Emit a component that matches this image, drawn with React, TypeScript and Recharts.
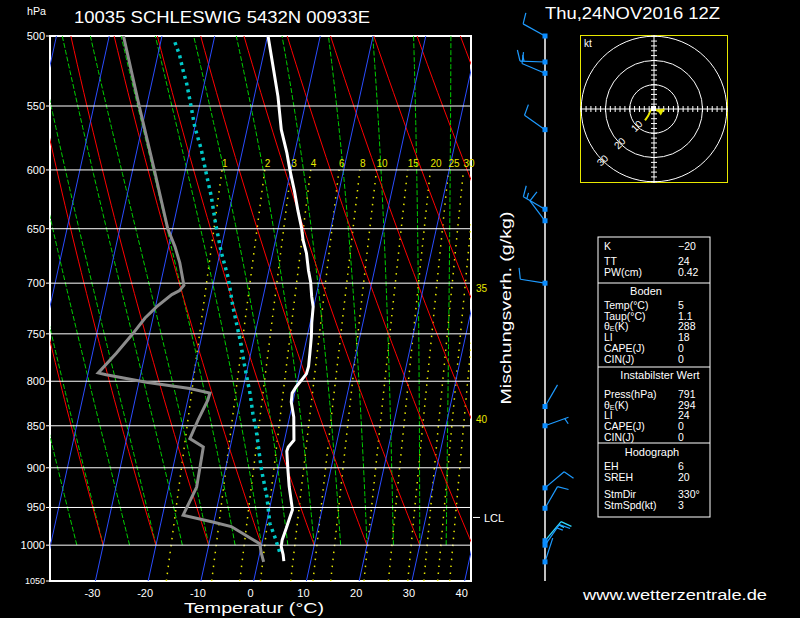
import React from 'react';
import {
  ComposedChart, Line, XAxis, YAxis, ReferenceLine, ReferenceArea, ReferenceDot, Scatter,
} from 'recharts';

// ---------- diagram geometry constants ----------
const SKEW = 30.5;          // °C of skew per ln(p) unit
const P_BOT = 1050;
const X_MIN = -38.6;
const X_MAX = 41.2;
const FONT = "'Liberation Sans', Arial, sans-serif";

// ---------- axis / reference values ----------
const pressureTicks = [500, 550, 600, 650, 700, 750, 800, 850, 900, 950, 1000, 1050];
const tempTicks = [-30, -20, -10, 0, 10, 20, 30, 40];
const isotherms = [-60, -50, -40, -30, -20, -10, 0, 10, 20, 30, 40];
const dryAdiabats = [-40, -30, -20, -10, 0, 10, 20, 30, 40, 50, 60, 70, 80]; // θ (°C) at 1000 hPa
const moistAdiabats = [-40, -35, -30, -25, -20, -15, -10, -5, 0, 5, 10, 15, 20, 25, 30, 35, 40]; // θw (°C)
const mixingRatios = [1, 2, 3, 4, 6, 8, 10, 15, 20, 25, 30, 35, 40]; // g/kg
const mixingLabels = [1, 2, 3, 4, 6, 8, 10, 15, 20, 25, 30];
const edgeMixLabels = [{ w: '35', p: 705 }, { w: '40', p: 843 }];
const lclPressure = 963;

// ---------- sounding: temperature ----------
const tempP = [1022, 1013, 1002, 993, 977, 964, 953, 923, 903, 880, 875, 867, 840, 823, 813, 806, 799, 792, 784, 770, 753, 739, 723, 713, 699, 688, 672, 660, 649, 634, 617, 600, 586, 568, 543, 521, 500];
const tempT = [4.9, 4.5, 3.8, 3.7, 4.0, 4.2, 4.4, 2.8, 1.9, 0.9, 1.0, 1.8, 0.8, -0.3, -0.5, 0.0, 0.7, 1.4, 1.5, 1.2, 0.8, 0.3, -0.1, -0.8, -1.6, -2.5, -3.6, -4.8, -5.6, -7.0, -8.5, -10.2, -11.5, -13.5, -15.5, -17.7, -19.9];

// ---------- sounding: dew point ----------
const dewP = [1023, 1011, 998, 975, 969, 960, 924, 899, 875, 865, 843, 821, 813, 808, 801, 793, 791, 770, 751, 734, 723, 711, 707, 702, 681, 666, 650, 600, 551, 500];
const dewT = [1.1, 0.3, -0.4, -6.5, -10.2, -16.1, -14.7, -14.9, -15.1, -18.0, -17.2, -16.2, -16.1, -20.1, -28.6, -36.5, -38.1, -35.5, -33.3, -31.5, -29.8, -27.4, -26.1, -25.5, -27.2, -28.8, -30.9, -35.9, -41.3, -47.3];

// ---------- parcel curve ----------
const parcelP = [1009, 989, 971, 936, 903, 853, 836, 813, 784, 756, 723, 695, 671, 645, 622, 603, 583, 566, 547, 533, 523, 513, 503];
const parcelT = [3.7, 2.2, 0.7, -1.0, -3.1, -5.9, -7.1, -8.5, -10.6, -12.6, -15.3, -17.4, -19.8, -22.1, -24.0, -25.9, -27.9, -30.0, -31.9, -33.4, -34.7, -35.9, -37.5];

// ---------- winds ----------
const windP = [500, 518, 526, 568, 633, 643, 700, 828, 850, 925, 951, 994, 1000, 1023];
const windDir = [299, 272, 293, 305, 300, 323, 279, 30, 70, 50, 30, 40, 35, 18];
const windSpd = [10, 15, 10, 10, 15, 10, 10, 3, 5, 10, 10, 15, 15, 3];

// ---------- hodograph (kt) ----------
const hodoU = [-3.7, -2.4, -1.4, 0, 2.2, 4.2];
const hodoV = [-4.7, -2.8, -0.6, 0, -1.0, -0.3];
const hodoRings = [10, 20, 30];
const hodoTickVals = [-30, -28, -26, -24, -22, -20, -18, -16, -14, -12, -10, -8, -6, -4, -2, 2, 4, 6, 8, 10, 12, 14, 16, 18, 20, 22, 24, 26, 28, 30];
const HODO_DOM = 30.5;
const HODO_SIZE = 148;

// ---------- table ----------
const tableRows = [
  { l: 'K', v: '\u221220', y: 246 },
  { l: 'TT', v: '24', y: 261 },
  { l: 'PW(cm)', v: '0.42', y: 272 },
  { l: 'Temp(\u00b0C)', v: '5', y: 305 },
  { l: 'Taup(\u00b0C)', v: '1.1', y: 315.5 },
  { l: 'TH', v: '288', y: 326 },
  { l: 'LI', v: '18', y: 337 },
  { l: 'CAPE(J)', v: '0', y: 348 },
  { l: 'CIN(J)', v: '0', y: 358.5 },
  { l: 'Press(hPa)', v: '791', y: 394 },
  { l: 'TH', v: '294', y: 404.5 },
  { l: 'LI', v: '24', y: 415 },
  { l: 'CAPE(J)', v: '0', y: 426 },
  { l: 'CIN(J)', v: '0', y: 436.5 },
  { l: 'EH', v: '6', y: 466 },
  { l: 'SREH', v: '20', y: 476.5 },
  { l: 'StmDir', v: '330\u00b0', y: 494 },
  { l: 'StmSpd(kt)', v: '3', y: 504.5 },
];
const tableHeads = [
  { t: 'Boden', x: 646, y: 291 },
  { t: 'Instabilster Wert', x: 660, y: 375 },
  { t: 'Hodograph', x: 652, y: 452 },
];

// ---------- thermodynamics for the diagram's reference curves ----------
const skewX = (T: number, p: number) => T + SKEW * Math.log(P_BOT / p);
const pt = (T: number, p: number) => ({ x: skewX(T, p), p });

const es = (Tc: number) => 6.112 * Math.exp((17.67 * Tc) / (Tc + 243.5));
const tdFromW = (w: number, p: number) => {
  const e = (w * p) / (622 + w);
  const l = Math.log(e / 6.112);
  return (243.5 * l) / (17.67 - l);
};
const moistRate = (Tk: number, p: number) => {
  const Rd = 287.04, Cp = 1005.7, Lv = 2.501e6, eps = 0.622;
  const e = es(Tk - 273.15);
  const rs = (eps * e) / (p - e);
  return (Rd * Tk + Lv * rs) / (Cp + (Lv * Lv * rs * eps) / (Rd * Tk * Tk));
};

const stepsOf = (a: number, b: number, n: number) => {
  const out: number[] = [];
  for (let i = 0; i <= n; i++) out.push(a + ((b - a) * i) / n);
  return out;
};

const isothermLines = isotherms.map((T) => [pt(T, 1050), pt(T, 500)]);
const dryLines = dryAdiabats.map((th) =>
  stepsOf(1000, 500, 50).map((p) => pt((th + 273.15) * Math.pow(p / 1000, 0.2857) - 273.15, p)),
);
const moistLines = moistAdiabats.map((tw) => {
  const n = 100;
  const l0 = Math.log(1000), l1 = Math.log(500);
  const h = (l1 - l0) / n;
  let T = tw + 273.15;
  let l = l0;
  const out = [pt(T - 273.15, 1000)];
  for (let i = 0; i < n; i++) {
    const f = (TT: number, ll: number) => moistRate(TT, Math.exp(ll));
    const k1 = f(T, l);
    const k2 = f(T + (h * k1) / 2, l + h / 2);
    const k3 = f(T + (h * k2) / 2, l + h / 2);
    const k4 = f(T + h * k3, l + h);
    T += (h / 6) * (k1 + 2 * k2 + 2 * k3 + k4);
    l += h;
    out.push(pt(T - 273.15, Math.exp(l)));
  }
  return out;
});
const mixLines = mixingRatios.map((w) => stepsOf(1050, 600, 30).map((p) => pt(tdFromW(w, p), p)));

const tempData = tempP.map((p, i) => pt(tempT[i], p));
const dewData = dewP.map((p, i) => pt(dewT[i], p));
const parcelData = parcelP.map((p, i) => pt(parcelT[i], p));
const windData = windP.map((p, i) => ({ x: 0.5, p, dir: windDir[i], spd: windSpd[i], c: i === 11 ? '#30d8ff' : '#1e9bff' }));
const hodoData = hodoU.map((u, i) => ({ u, v: hodoV[i] }));
const hodoTicksH = hodoTickVals.map((t) => ({ u: t, v: 0, o: 'h' }));
const hodoTicksV = hodoTickVals.map((t) => ({ u: 0, v: t, o: 'v' }));

// ---------- colours ----------
const BLUE = '#2a4cff';
const RED = '#ff0000';
const GREEN = '#00d000';
const YELLOW = '#e8e800';

const YTick = (props: any) => {
  const { x, y, payload } = props;
  const big = payload.value === 1050;
  return (
    <text x={x} y={y} fill="#fff" fontSize={big ? 9 : 11} fontFamily={FONT} textAnchor="end" dominantBaseline="central">
      {payload.value}
    </text>
  );
};
const XTick = (props: any) => {
  const { x, payload } = props;
  return (
    <text x={x - 3} y={593} fill="#fff" fontSize={11} fontFamily={FONT} textAnchor="middle" dominantBaseline="central">
      {String(payload.value)}
    </text>
  );
};

const Barb = (props: any) => {
  const { cx, cy, payload } = props;
  if (cx == null || cy == null) return null;
  const th = (payload.dir * Math.PI) / 180;
  const ux = Math.sin(th), uy = -Math.cos(th);
  const bx = -uy, by = ux;
  const L = 25;
  const items: any[] = [];
  let pos = L;
  const full = Math.floor(payload.spd / 10);
  const half = payload.spd % 10 >= 5;
  for (let i = 0; i < full; i++) {
    const sx = cx + ux * pos, sy = cy + uy * pos;
    items.push(<line key={'f' + i} x1={sx} y1={sy} x2={sx + bx * 11 + ux * 3} y2={sy + by * 11 + uy * 3} stroke={payload.c} strokeWidth={1.2} />);
    pos -= 4;
  }
  if (half) {
    if (full === 0) pos -= 4;
    const sx = cx + ux * pos, sy = cy + uy * pos;
    items.push(<line key="h" x1={sx} y1={sy} x2={sx + bx * 6 + ux * 1.5} y2={sy + by * 6 + uy * 1.5} stroke={payload.c} strokeWidth={1.2} />);
  }
  return (
    <g>
      <line x1={cx} y1={cy} x2={cx + ux * L} y2={cy + uy * L} stroke={payload.c} strokeWidth={1.2} />
      {items}
      <rect x={cx - 2.5} y={cy - 2.5} width={5} height={5} fill="#0a8cff" />
    </g>
  );
};

const HodoTick = (props: any) => {
  const { cx, cy, payload } = props;
  if (payload.o === 'h') return <line x1={cx} y1={cy - 3} x2={cx} y2={cy + 3} stroke="#fff" strokeWidth={1} />;
  return <line x1={cx - 3} y1={cy} x2={cx + 3} y2={cy} stroke="#fff" strokeWidth={1} />;
};

const ROW_FS = 10.5;
const RowLabel = ({ l, y }: { l: string; y: number }) => {
  if (l === 'TH') {
    return (
      <text x={604} y={y} fill="#fff" fontSize={ROW_FS} dominantBaseline="central">
        {'\u03b8'}<tspan fontSize={7} dy={2}>E</tspan><tspan dy={-2}>(K)</tspan>
      </text>
    );
  }
  return <text x={604} y={y} fill="#fff" fontSize={ROW_FS} dominantBaseline="central">{l}</text>;
};

export default function App() {
  const pxPerKt = HODO_SIZE / (2 * HODO_DOM);
  return (
    <div style={{ position: 'absolute', left: 0, top: 0, width: 800, height: 618, background: '#000', overflow: 'hidden' }}>
      {/* main skew-T */}
      <div style={{ position: 'absolute', left: 0, top: 0 }}>
        <ComposedChart width={800} height={618} margin={{ top: 36, right: 329, bottom: 7, left: 10 }}>
          <XAxis type="number" dataKey="x" domain={[X_MIN, X_MAX]} allowDataOverflow ticks={tempTicks} interval={0}
            tick={<XTick />} tickLine={false} axisLine={false} height={30} />
          <YAxis type="number" dataKey="p" scale="log" domain={[500, 1050]} reversed allowDataOverflow ticks={pressureTicks} interval={0}
            tick={<YTick />} tickLine={{ stroke: '#fff' }} tickSize={4} tickMargin={1} axisLine={false} width={40} />
          {mixLines.map((d, i) => (
            <Line key={'m' + i} data={d} dataKey="p" stroke={YELLOW} strokeWidth={1.5} strokeDasharray="1.5 5.5" dot={false} activeDot={false} isAnimationActive={false} />
          ))}
          {moistLines.map((d, i) => (
            <Line key={'w' + i} data={d} dataKey="p" stroke={GREEN} strokeWidth={1} strokeDasharray="5 2" dot={false} activeDot={false} isAnimationActive={false} />
          ))}
          {dryLines.map((d, i) => (
            <Line key={'d' + i} data={d} dataKey="p" stroke={RED} strokeWidth={1} dot={false} activeDot={false} isAnimationActive={false} />
          ))}
          {isothermLines.map((d, i) => (
            <Line key={'t' + i} data={d} dataKey="p" stroke={BLUE} strokeWidth={1} dot={false} activeDot={false} isAnimationActive={false} />
          ))}
          {pressureTicks.slice(1, -1).map((p) => (
            <ReferenceLine key={'i' + p} y={p} stroke="#fff" strokeWidth={1} />
          ))}
          <Line data={parcelData} dataKey="p" stroke="#00c8c8" strokeWidth={3.5} strokeDasharray="3 4" dot={false} activeDot={false} isAnimationActive={false} />
          <Line data={dewData} dataKey="p" stroke="#8c8c8c" strokeWidth={3} dot={false} activeDot={false} isAnimationActive={false} />
          <Line data={tempData} dataKey="p" stroke="#ffffff" strokeWidth={3} dot={false} activeDot={false} isAnimationActive={false} />
          <ReferenceArea x1={X_MIN} x2={X_MAX} y1={500} y2={1050} fill="none" fillOpacity={0} stroke="#fff" strokeWidth={2} />
          {mixingLabels.map((w) => (
            <ReferenceDot key={'ml' + w} x={skewX(tdFromW(w, 600), 600)} y={600} r={0}
              shape={(p: any) => (
                <text x={p.cx} y={p.cy - 3} fill={YELLOW} fontSize={10} fontFamily={FONT}>{w}</text>
              )} />
          ))}
          {edgeMixLabels.map((m) => (
            <ReferenceDot key={'el' + m.w} x={X_MAX} y={m.p} r={0}
              shape={(p: any) => (
                <text x={p.cx + 5} y={p.cy} fill={YELLOW} fontSize={10} fontFamily={FONT} dominantBaseline="central">{m.w}</text>
              )} />
          ))}
          <ReferenceDot x={X_MAX} y={lclPressure} r={0}
            shape={(p: any) => (
              <g>
                <line x1={p.cx + 2} y1={p.cy} x2={p.cx + 9} y2={p.cy} stroke="#fff" strokeWidth={1} />
                <text x={p.cx + 13} y={p.cy + 1} fill="#fff" fontSize={11} fontFamily={FONT} dominantBaseline="central">LCL</text>
              </g>
            )} />
        </ComposedChart>
      </div>

      {/* wind barbs */}
      <div style={{ position: 'absolute', left: 500, top: 0 }}>
        <ComposedChart width={90} height={618} margin={{ top: 36, right: 0, bottom: 37, left: 0 }}>
          <XAxis type="number" dataKey="x" domain={[0, 1]} hide />
          <YAxis type="number" dataKey="p" scale="log" domain={[500, 1050]} reversed hide />
          <ReferenceLine x={0.5} stroke="#fff" strokeWidth={1.5} />
          <Scatter data={windData} shape={<Barb />} isAnimationActive={false} />
        </ComposedChart>
      </div>

      {/* hodograph */}
      <div style={{ position: 'absolute', left: 580, top: 35 }}>
        <ComposedChart width={HODO_SIZE} height={HODO_SIZE} margin={{ top: 0, right: 0, bottom: 0, left: 0 }}>
          <XAxis type="number" dataKey="u" domain={[-HODO_DOM, HODO_DOM]} hide allowDataOverflow />
          <YAxis type="number" dataKey="v" domain={[-HODO_DOM, HODO_DOM]} hide allowDataOverflow />
          {hodoRings.map((s) => (
            <ReferenceDot key={'r' + s} x={0} y={0} r={s * pxPerKt} fill="none" stroke="#fff" strokeWidth={1} />
          ))}
          <ReferenceLine x={0} stroke="#fff" strokeWidth={1} />
          <ReferenceLine y={0} stroke="#fff" strokeWidth={1} />
          <Scatter data={hodoTicksH} shape={<HodoTick />} isAnimationActive={false} />
          <Scatter data={hodoTicksV} shape={<HodoTick />} isAnimationActive={false} />
          {hodoRings.map((s) => (
            <ReferenceDot key={'rl' + s} x={-s * 0.7071} y={-s * 0.7071} r={0}
              shape={(p: any) => (
                <text x={p.cx} y={p.cy} fill="#fff" fontSize={10} fontFamily={FONT} textAnchor="middle" dominantBaseline="central"
                  transform={`rotate(-45 ${p.cx} ${p.cy})`}>{s}</text>
              )} />
          ))}
          <Line data={hodoData} dataKey="v" stroke={YELLOW} strokeWidth={2} dot={false} activeDot={false} isAnimationActive={false} />
          <ReferenceDot x={3.2} y={-1} r={0}
            shape={(p: any) => (
              <polygon points={`${p.cx - 5},${p.cy - 2} ${p.cx + 3},${p.cy - 3} ${p.cx - 1},${p.cy + 4}`} fill={YELLOW} />
            )} />
          <ReferenceDot x={0} y={0} r={0}
            shape={(p: any) => <rect x={p.cx - 3} y={p.cy - 3} width={5} height={5} fill="#fff" />} />
          <ReferenceArea x1={-HODO_DOM} x2={HODO_DOM} y1={-HODO_DOM} y2={HODO_DOM} fill="none" fillOpacity={0} stroke={YELLOW} strokeWidth={2} />
        </ComposedChart>
      </div>

      {/* texts & table */}
      <svg width={800} height={618} style={{ position: 'absolute', left: 0, top: 0, pointerEvents: 'none' }} fontFamily={FONT}>
        <text x={27} y={15} fill="#fff" fontSize={10} textLength={19} lengthAdjust="spacingAndGlyphs">hPa</text>
        <text x={74} y={22.5} fill="#fff" fontSize={17} textLength={296} lengthAdjust="spacingAndGlyphs">10035 SCHLESWIG 5432N 00933E</text>
        <text x={545} y={18.5} fill="#fff" fontSize={17} textLength={175} lengthAdjust="spacingAndGlyphs">Thu,24NOV2016 12Z</text>
        <text x={584} y={47} fill="#fff" fontSize={10}>kt</text>
        <text x={184} y={613} fill="#fff" fontSize={15} textLength={140} lengthAdjust="spacingAndGlyphs">Temperatur (°C)</text>
        <text x={583} y={600} fill="#fff" fontSize={14} textLength={184} lengthAdjust="spacingAndGlyphs">www.wetterzentrale.de</text>
        <text x={0} y={0} fill="#fff" fontSize={15} textAnchor="middle" dominantBaseline="central" textLength={193} lengthAdjust="spacingAndGlyphs"
          transform="translate(505 308) rotate(-90)">Mischungsverh. (g/kg)</text>
        <rect x={598} y={237} width={112} height={280} fill="none" stroke="#fff" strokeWidth={1} />
        <line x1={598} y1={283} x2={710} y2={283} stroke="#fff" strokeWidth={1} />
        <line x1={598} y1={367} x2={710} y2={367} stroke="#fff" strokeWidth={1} />
        <line x1={598} y1={443} x2={710} y2={443} stroke="#fff" strokeWidth={1} />
        {tableHeads.map((h) => (
          <text key={h.t} x={h.x} y={h.y} fill="#fff" fontSize={11} textAnchor="middle" dominantBaseline="central">{h.t}</text>
        ))}
        {tableRows.map((r, i) => (
          <g key={i}>
            <RowLabel l={r.l} y={r.y} />
            <text x={678} y={r.y} fill="#fff" fontSize={ROW_FS} dominantBaseline="central">{r.v}</text>
          </g>
        ))}
      </svg>
    </div>
  );
}
